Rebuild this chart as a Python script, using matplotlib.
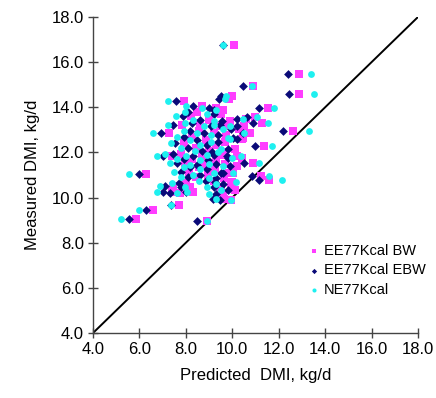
import matplotlib
matplotlib.use("Agg")
import matplotlib.pyplot as plt

plt.rcParams['font.family'] = ['Liberation Sans', 'DejaVu Sans']

# Measured DMI (kg/d) for each animal group
measured = [
    16.78, 15.46, 14.58, 14.93, 14.52, 14.37, 13.87, 13.96, 14.30, 13.80,
    13.62, 13.30, 13.21, 12.84, 11.05, 9.46, 9.04, 9.66, 8.95, 12.29,
    12.93, 10.97, 10.79, 9.93, 9.90, 11.55, 11.85, 13.30, 13.55, 13.49,
    14.05, 13.95, 13.70, 13.45, 13.40, 13.15, 13.05, 12.95, 12.85, 12.75,
    12.70, 12.60, 12.55, 12.48, 12.41, 12.35, 12.20, 12.15, 12.05, 12.04,
    11.95, 11.90, 11.85, 11.82, 11.74, 11.70, 11.65, 11.55, 11.50, 11.45,
    11.40, 11.35, 11.25, 11.15, 11.10, 11.00, 10.90, 10.85, 10.75, 10.65,
    10.60, 10.52, 10.49, 10.45, 10.35, 10.24, 10.24, 10.20, 10.15, 13.22,
    13.15, 12.85, 12.63, 11.11, 10.70,
]

# Predicted DMI (kg/d), EE77Kcal on body weight
pred_ee_bw = [
    10.06, 12.89, 12.89, 10.90, 10.00, 9.87, 9.60, 11.55, 7.91, 8.50,
    8.22, 8.62, 7.82, 7.29, 6.30, 6.57, 5.87, 7.71, 8.90, 11.36,
    12.63, 11.23, 11.60, 9.64, 9.95, 10.88, 10.20, 11.27, 11.00, 10.60,
    8.70, 9.30, 9.50, 9.00, 9.90, 9.45, 10.30, 8.55, 9.20, 9.75,
    8.25, 10.40, 8.85, 9.70, 7.90, 9.30, 8.45, 10.10, 9.00, 9.60,
    7.80, 9.50, 7.40, 8.70, 10.40, 8.25, 9.30, 7.95, 9.70, 8.85,
    10.20, 8.55, 9.25, 8.15, 9.85, 8.95, 8.45, 9.65, 9.20, 8.00,
    9.95, 7.45, 8.18, 9.50, 10.10, 7.39, 8.32, 7.75, 9.60, 9.80,
    10.50, 10.77, 10.45, 10.05, 9.98,
]

# Predicted DMI (kg/d), EE77Kcal on empty body weight
pred_ee_ebw = [
    9.62, 12.42, 12.46, 10.48, 9.52, 9.43, 9.22, 11.13, 7.56, 8.11,
    7.88, 8.25, 7.46, 6.92, 5.97, 6.27, 5.56, 7.35, 8.50, 10.98,
    12.20, 10.84, 11.17, 9.19, 9.47, 10.50, 9.79, 10.91, 10.62, 10.19,
    8.30, 9.00, 9.20, 8.60, 9.55, 9.10, 9.95, 8.20, 8.80, 9.40,
    7.92, 10.20, 8.50, 9.40, 7.55, 8.90, 8.10, 9.80, 8.70, 9.11,
    7.45, 9.20, 7.03, 8.30, 9.83, 7.90, 8.95, 7.60, 9.30, 8.50,
    9.90, 8.20, 8.90, 7.80, 9.50, 8.60, 8.10, 9.30, 8.85, 7.70,
    9.60, 7.10, 7.78, 9.20, 9.80, 7.03, 8.00, 7.30, 9.30, 9.47,
    10.19, 10.48, 10.05, 9.62, 9.26,
]

# Predicted DMI (kg/d), NE77Kcal
pred_ne = [
    9.62, 13.38, 13.50, 10.84, 9.75, 9.70, 9.30, 11.80, 7.22, 7.97,
    7.58, 7.95, 7.22, 6.60, 5.55, 6.00, 5.22, 7.36, 8.90, 11.70,
    13.30, 11.60, 12.15, 9.30, 9.93, 11.17, 10.38, 11.54, 11.05, 10.45,
    8.00, 8.70, 8.90, 8.30, 9.20, 8.80, 9.60, 7.90, 8.50, 9.10,
    7.60, 9.90, 8.20, 9.10, 7.36, 8.60, 7.80, 9.50, 8.40, 9.37,
    7.10, 8.90, 6.74, 8.00, 10.00, 7.60, 8.60, 7.30, 9.00, 8.20,
    9.60, 7.90, 8.60, 7.50, 9.20, 8.30, 7.80, 9.00, 8.55, 7.40,
    9.30, 6.89, 7.95, 8.90, 9.50, 6.74, 8.04, 7.60, 9.00, 9.20,
    9.90, 10.50, 9.80, 10.05, 10.16,
]

series_labels = ["EE77Kcal BW", "EE77Kcal EBW", "NE77Kcal"]
ticks = [4, 6, 8, 10, 12, 14, 16, 18]

fig = plt.figure(figsize=(4.36, 3.98), dpi=100)
ax = fig.add_axes([0.2133, 0.1633, 0.7454, 0.794])

ax.plot([4, 18], [4, 18], color="black", lw=1.4, zorder=1)

ax.scatter(pred_ee_bw, measured, marker="s", s=26, color="#ff3dff",
           linewidths=0, label=series_labels[0], zorder=2)
ax.scatter(pred_ee_ebw, measured, marker="D", s=20, color="#0a0a78",
           linewidths=0, label=series_labels[1], zorder=3)
ax.scatter(pred_ne, measured, marker="o", s=24, color="#1ef0f0",
           linewidths=0, label=series_labels[2], zorder=4)

ax.set_xlim(4, 18)
ax.set_ylim(4, 18)
ax.set_xticks(ticks)
ax.set_yticks(ticks)
ax.set_xticklabels([f"{t:.1f}" for t in ticks])
ax.set_yticklabels([f"{t:.1f}" for t in ticks])

for side in ("top", "right"):
    ax.spines[side].set_visible(False)
for side in ("left", "bottom"):
    ax.spines[side].set_color("#444444")
    ax.spines[side].set_linewidth(1.0)
ax.tick_params(direction="inout", length=7, width=1.0, color="#444444",
               labelsize=12, pad=3)

ax.set_xlabel("Predicted  DMI, kg/d", fontsize=12, labelpad=8)
ax.set_ylabel("Measured DMI, kg/d", fontsize=12, labelpad=8)

ax.legend(loc="upper left", bbox_to_anchor=(0.662, 0.283), frameon=False,
          fontsize=10.5, handlelength=0.8, handletextpad=0.3,
          labelspacing=0.4, markerscale=0.6, borderaxespad=0,
          borderpad=0)

fig.savefig("out.png", dpi=100)
